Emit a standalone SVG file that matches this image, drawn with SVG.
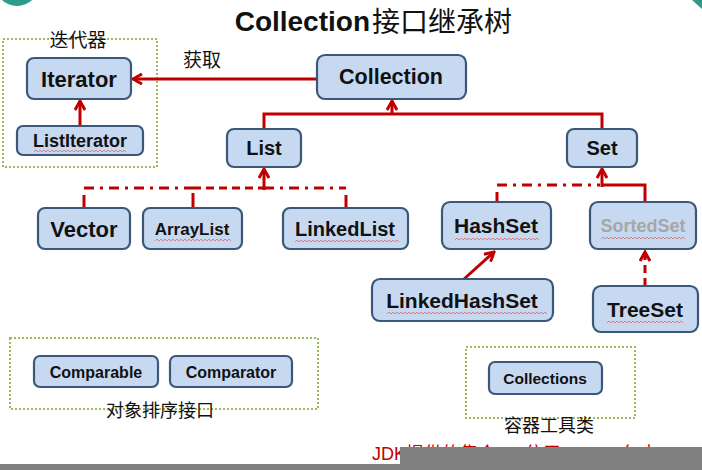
<svg xmlns="http://www.w3.org/2000/svg" width="702" height="470" viewBox="0 0 702 470">
<defs>
<style>
.node rect{fill:#c6d9f1;stroke:#3b5878;stroke-width:2.2}
.lbl{font-family:"Liberation Sans",Arial,sans-serif;font-weight:bold;fill:#111;text-anchor:middle;dominant-baseline:central}
.cjk{font-family:"Noto Sans CJK SC",sans-serif;fill:#111;text-anchor:middle}
.grp{fill:none;stroke:#9bbb59;stroke-width:2;stroke-dasharray:2 2}
.con{fill:none;stroke:#c00000;stroke-width:3}
.dd{stroke-dasharray:10 6 3 6}
.dash{stroke-dasharray:8 5}
.sq{fill:none;stroke:#e06a6a;stroke-width:0.8}
</style>
<marker id="arr" viewBox="0 0 12 12" refX="10" refY="6" markerWidth="12" markerHeight="12" markerUnits="userSpaceOnUse" orient="auto">
<path d="M1,1 L10,6 L1,11" fill="none" stroke="#c00000" stroke-width="3"/>
</marker>
</defs>
<rect width="702" height="470" fill="#fff"/>
<circle cx="17" cy="-16" r="22" fill="#2e9c88"/>
<path d="M692,0 L702,0 L702,9 Z" fill="#2e9c88"/>

<g id="title">
<text x="370" y="31" font-family="Liberation Sans,Arial,sans-serif" font-size="28" font-weight="bold" text-anchor="end" fill="#111">Collection</text>
<text x="372" y="32" font-family="Noto Sans CJK SC,sans-serif" font-size="28" fill="#111">接口继承树</text>
</g>

<g id="group-iter">
<rect class="grp" x="3" y="39" width="154" height="128"/>
<text class="cjk" x="78" y="47" font-size="19">迭代器</text>
</g>
<g id="group-sort">
<rect class="grp" x="10" y="338" width="308" height="71"/>
<text class="cjk" x="160" y="417" font-size="18">对象排序接口</text>
</g>
<g id="group-util">
<rect class="grp" x="466" y="347" width="169" height="71"/>
<text class="cjk" x="549" y="432" font-size="18">容器工具类</text>
</g>

<g id="connectors">
<path class="con" d="M317,79 H133" marker-end="url(#arr)"/>
<path class="con" d="M80,126 V101" marker-end="url(#arr)"/>
<path class="con" d="M264,129 V114 H602 V129"/>
<path class="con" d="M392,114 V101" marker-end="url(#arr)"/>
<path class="con dd" d="M84,188 H193"/>
<path class="con dash" d="M193,188 H264"/>
<path class="con dd" d="M264,188 H346"/>
<path class="con" d="M84,195 V207 M193,193 V207 M346,195 V207"/>
<path class="con" d="M264,190 V169" marker-end="url(#arr)"/>
<path class="con dd" d="M497,185 H600"/>
<path class="con" d="M497,192 V202"/>
<path class="con" d="M602,185 H645 V202"/>
<path class="con" d="M602,187 V169" marker-end="url(#arr)"/>
<path class="con" d="M464,279 L494,252" marker-end="url(#arr)"/>
<path class="con dash" d="M645,286 V252" marker-end="url(#arr)"/>
<text x="202" y="67" font-family="Noto Sans CJK SC,sans-serif" font-size="19" text-anchor="middle" fill="#111">获取</text>
</g>

<g id="iterator" class="node"><rect x="27" y="58" width="104" height="41" rx="7"/><text class="lbl" x="79" y="79" font-size="22">Iterator</text></g>
<g id="listiterator" class="node"><rect x="17" y="126" width="126" height="29" rx="6"/><text class="lbl" x="80" y="141" font-size="18">ListIterator</text>
<path class="sq" d="M34,152 l2,-2 l2,2 l2,-2 l2,2 l2,-2 l2,2 l2,-2 l2,2 l2,-2 l2,2 l2,-2 l2,2 l2,-2 l2,2 l2,-2 l2,2 l2,-2 l2,2 l2,-2 l2,2 l2,-2 l2,2 l2,-2 l2,2 l2,-2 l2,2 l2,-2 l2,2 l2,-2 l2,2 l2,-2 l2,2 l2,-2 l2,2 l2,-2 l2,2 l2,-2 l2,2 l2,-2 l2,2 l2,-2 l2,2 l2,-2 l2,2 l2,-2 l2,2"/></g>
<g id="collection" class="node"><rect x="317" y="55" width="149" height="44" rx="8"/><text class="lbl" x="391" y="77" font-size="21.5">Collection</text></g>
<g id="list" class="node"><rect x="227" y="129" width="74" height="38" rx="7"/><text class="lbl" x="264" y="148" font-size="20">List</text></g>
<g id="set" class="node"><rect x="567" y="129" width="70" height="38" rx="7"/><text class="lbl" x="602" y="148" font-size="20">Set</text></g>
<g id="vector" class="node"><rect x="38" y="208" width="92" height="41" rx="7"/><text class="lbl" x="84" y="229" font-size="22">Vector</text></g>
<g id="arraylist" class="node"><rect x="143" y="208" width="99" height="41" rx="7"/><text class="lbl" x="192" y="229" font-size="17">ArrayList</text>
<path class="sq" d="M155,241 l2,-2 l2,2 l2,-2 l2,2 l2,-2 l2,2 l2,-2 l2,2 l2,-2 l2,2 l2,-2 l2,2 l2,-2 l2,2 l2,-2 l2,2 l2,-2 l2,2 l2,-2 l2,2 l2,-2 l2,2 l2,-2 l2,2 l2,-2 l2,2 l2,-2 l2,2 l2,-2 l2,2 l2,-2 l2,2 l2,-2 l2,2 l2,-2 l2,2 l2,-2 l2,2"/></g>
<g id="linkedlist" class="node"><rect x="283" y="208" width="125" height="41" rx="7"/><text class="lbl" x="345" y="229" font-size="20">LinkedList</text>
<path class="sq" d="M295,242 l2,-2 l2,2 l2,-2 l2,2 l2,-2 l2,2 l2,-2 l2,2 l2,-2 l2,2 l2,-2 l2,2 l2,-2 l2,2 l2,-2 l2,2 l2,-2 l2,2 l2,-2 l2,2 l2,-2 l2,2 l2,-2 l2,2 l2,-2 l2,2 l2,-2 l2,2 l2,-2 l2,2 l2,-2 l2,2 l2,-2 l2,2 l2,-2 l2,2 l2,-2 l2,2 l2,-2 l2,2 l2,-2 l2,2 l2,-2 l2,2 l2,-2 l2,2 l2,-2 l2,2 l2,-2 l2,2 l2,-2 l2,2"/></g>
<g id="hashset" class="node"><rect x="442" y="202" width="109" height="47" rx="8"/><text class="lbl" x="496" y="225" font-size="21">HashSet</text>
<path class="sq" d="M455,240 l2,-2 l2,2 l2,-2 l2,2 l2,-2 l2,2 l2,-2 l2,2 l2,-2 l2,2 l2,-2 l2,2 l2,-2 l2,2 l2,-2 l2,2 l2,-2 l2,2 l2,-2 l2,2 l2,-2 l2,2 l2,-2 l2,2 l2,-2 l2,2 l2,-2 l2,2 l2,-2 l2,2 l2,-2 l2,2 l2,-2 l2,2 l2,-2 l2,2 l2,-2 l2,2 l2,-2 l2,2 l2,-2 l2,2"/></g>
<g id="sortedset" class="node"><rect x="590" y="202" width="106" height="47" rx="8"/><text class="lbl" x="643" y="226" font-size="18" style="fill:#a6a6a6">SortedSet</text>
<path class="sq" d="M601,239 l2,-2 l2,2 l2,-2 l2,2 l2,-2 l2,2 l2,-2 l2,2 l2,-2 l2,2 l2,-2 l2,2 l2,-2 l2,2 l2,-2 l2,2 l2,-2 l2,2 l2,-2 l2,2 l2,-2 l2,2 l2,-2 l2,2 l2,-2 l2,2 l2,-2 l2,2 l2,-2 l2,2 l2,-2 l2,2 l2,-2 l2,2 l2,-2 l2,2 l2,-2 l2,2 l2,-2 l2,2 l2,-2 l2,2"/></g>
<g id="linkedhashset" class="node"><rect x="372" y="279" width="181" height="42" rx="8"/><text class="lbl" x="462" y="300" font-size="21">LinkedHashSet</text>
<path class="sq" d="M387,314 l2,-2 l2,2 l2,-2 l2,2 l2,-2 l2,2 l2,-2 l2,2 l2,-2 l2,2 l2,-2 l2,2 l2,-2 l2,2 l2,-2 l2,2 l2,-2 l2,2 l2,-2 l2,2 l2,-2 l2,2 l2,-2 l2,2 l2,-2 l2,2 l2,-2 l2,2 l2,-2 l2,2 l2,-2 l2,2 l2,-2 l2,2 l2,-2 l2,2 l2,-2 l2,2 l2,-2 l2,2 l2,-2 l2,2 l2,-2 l2,2 l2,-2 l2,2 l2,-2 l2,2 l2,-2 l2,2 l2,-2 l2,2 l2,-2 l2,2 l2,-2 l2,2 l2,-2 l2,2 l2,-2 l2,2 l2,-2 l2,2 l2,-2 l2,2 l2,-2 l2,2 l2,-2 l2,2 l2,-2 l2,2 l2,-2 l2,2 l2,-2 l2,2 l2,-2 l2,2 l2,-2 l2,2 l2,-2 l2,2"/></g>
<g id="treeset" class="node"><rect x="593" y="286" width="105" height="46" rx="8"/><text class="lbl" x="645" y="309" font-size="21">TreeSet</text>
<path class="sq" d="M607,323 l2,-2 l2,2 l2,-2 l2,2 l2,-2 l2,2 l2,-2 l2,2 l2,-2 l2,2 l2,-2 l2,2 l2,-2 l2,2 l2,-2 l2,2 l2,-2 l2,2 l2,-2 l2,2 l2,-2 l2,2 l2,-2 l2,2 l2,-2 l2,2 l2,-2 l2,2 l2,-2 l2,2 l2,-2 l2,2 l2,-2 l2,2 l2,-2 l2,2 l2,-2 l2,2"/></g>
<g id="comparable" class="node"><rect x="34" y="356" width="124" height="31" rx="6"/><text class="lbl" x="96" y="372" font-size="16">Comparable</text></g>
<g id="comparator" class="node"><rect x="170" y="356" width="122" height="31" rx="6"/><text class="lbl" x="231" y="372" font-size="16">Comparator</text></g>
<g id="collections" class="node"><rect x="489" y="362" width="113" height="32" rx="6"/><text class="lbl" x="545" y="378" font-size="15.5">Collections</text></g>

<text x="372" y="460" font-family="Liberation Sans,Noto Sans CJK SC,sans-serif" font-size="18" fill="#c00000">JDK提供的集合API位于java.util包中</text>
<rect x="400" y="447" width="302" height="23" fill="#808080"/>
<rect x="0" y="464" width="702" height="6" fill="#808080"/>
</svg>
